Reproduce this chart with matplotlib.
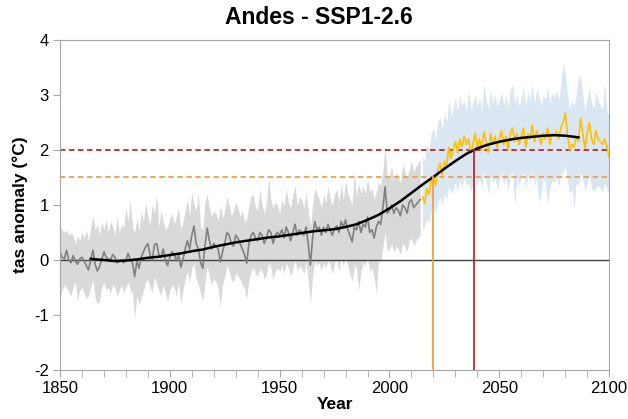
import matplotlib
matplotlib.use("Agg")
import matplotlib.pyplot as plt
from matplotlib.ticker import MultipleLocator
import numpy as np

plt.rcParams['font.family'] = ['Liberation Sans', 'DejaVu Sans']
plt.rcParams['axes.unicode_minus'] = False

# historical annual anomaly 1850-2014
hist_years = np.arange(1850, 2015)
hist_vals = [
    0.15, 0.05, 0.02, 0.18, 0.0, -0.05, 0.08, -0.02, -0.08, 0.02,
    0.05, -0.02, -0.1, -0.18, 0.0, 0.18, -0.08, -0.2, -0.12, 0.0,
    0.15, 0.05, 0.02, 0.0, 0.1, 0.05, -0.05, -0.03, 0.0, -0.05,
    0.0, 0.12, 0.0, -0.05, -0.3, -0.02, -0.15, 0.05, 0.15, 0.24,
    0.3, 0.1, 0.0, 0.28, 0.3, 0.1, 0.05, 0.2, -0.02, -0.1,
    0.05, 0.15, 0.1, -0.02, 0.1, -0.13, 0.0, 0.2, 0.35, 0.2,
    0.45, 0.62, 0.3, 0.2, -0.05, -0.15, 0.25, 0.58, 0.35, 0.2,
    0.3, 0.25, 0.2, -0.04, 0.15, 0.3, 0.5, 0.45, 0.3, 0.25,
    0.45, 0.4, 0.3, 0.2, 0.1, -0.06, 0.3, 0.45, 0.5, 0.4,
    0.35, 0.5, 0.45, 0.3, 0.4, 0.55, 0.5, 0.3, 0.45, 0.5,
    0.45, 0.55, 0.4, 0.6, 0.5, 0.35, 0.5, 0.65, 0.45, 0.55,
    0.5, 0.45, 0.6, 0.3, -0.09, 0.4, 0.7, 0.55, 0.6, 0.45,
    0.6, 0.5, 0.65, 0.55, 0.45, 0.58, 0.62, 0.5, 0.7, 0.6,
    0.73, 0.55, 0.45, 0.33, 0.6, 0.55, 0.7, 0.5, 0.65, 0.6,
    0.78, 0.5, 0.55, 0.4, 0.6, 0.7, 0.65, 0.95, 1.33, 0.85,
    0.9, 1.0, 0.85, 0.95, 0.9, 0.8, 1.0, 0.95, 0.85, 1.05,
    1.1, 0.95, 1.0, 1.05, 1.1,
]
hist_upper = [
    0.6, 0.55, 0.5, 0.55, 0.45, 0.5, 0.45, 0.3, 0.45, 0.35,
    0.5, 0.4, 0.55, 0.35, 0.6, 0.8, 0.55, 0.65, 0.45, 0.7,
    0.55, 0.75, 0.5, 0.7, 0.6, 0.45, 0.8, 0.5, 0.65, 0.6,
    0.95, 0.7, 1.1, 0.6, 0.5, 0.75, 0.55, 0.9, 0.7, 1.05,
    0.8, 0.65, 1.0, 0.85, 1.2, 0.6, 0.9, 0.7, 0.55, 0.6,
    0.75, 0.85, 0.65, 0.8, 0.95, 0.55, 0.7, 0.9, 1.1, 0.8,
    1.25, 1.0, 0.9, 1.2, 0.6, 0.55, 1.05, 1.2, 0.95, 0.8,
    0.9, 0.85, 0.7, 1.0, 0.75, 0.9, 1.15, 1.0, 0.8, 0.9,
    1.05, 0.95, 0.8, 0.9, 0.7, 0.75, 1.0, 1.15, 1.2, 0.95,
    0.9, 1.3, 1.0, 0.85, 1.05, 1.5, 1.1, 0.95, 1.05, 1.0,
    0.85, 1.1, 1.0, 1.3, 1.05, 0.95, 1.2, 1.35, 1.0, 1.15,
    1.1, 0.95, 1.25, 0.9, 0.6, 1.0, 1.3, 1.2, 1.1, 0.95,
    1.2, 1.05, 1.35, 1.1, 1.0, 1.2, 1.3, 1.05, 1.4, 1.1,
    1.45, 1.2, 1.1, 1.0, 1.63, 1.15, 1.4, 1.2, 1.35, 1.2,
    1.5, 1.25, 1.3, 1.1, 1.25, 1.4, 1.35, 1.6, 2.1, 1.5,
    1.55, 1.7, 1.45, 1.6, 1.5, 1.4, 1.75, 1.6, 1.5, 1.65,
    1.8, 1.6, 1.7, 1.75, 1.85,
]
hist_lower = [
    -0.7, -0.55, -0.45, -0.5, -0.6, -0.65, -0.5, -0.4, -0.75, -0.55,
    -0.5, -0.6, -0.7, -0.65, -0.5, -0.35, -0.7, -0.8, -0.75, -0.5,
    -0.4, -0.55, -0.5, -0.6, -0.45, -0.5, -0.65, -0.55, -0.45, -0.6,
    -0.5, -0.4, -0.55, -0.6, -1.05, -0.65, -0.8, -0.7, -0.55, -0.4,
    -0.35, -0.5, -0.6, -0.3, -0.45, -0.55, -0.65, -0.45, -0.6, -0.75,
    -0.55, -0.45, -0.5, -0.65, -0.4, -0.8, -0.55, -0.35, -0.2, -0.4,
    -0.15, -0.05, -0.35, -0.45, -0.6, -0.75, -0.4, -0.1, -0.3, -0.45,
    -0.35, -0.4, -0.5, -0.85, -0.45, -0.3, -0.1, -0.2, -0.35, -0.4,
    -0.25, -0.3, -0.35, -0.45, -0.5, -0.7, -0.35, -0.2, -0.15, -0.25,
    -0.3, -0.15, -0.2, -0.35, -0.25, -0.05, -0.15, -0.35, -0.2, -0.15,
    -0.2, -0.1, -0.25, -0.05, -0.15, -0.3, -0.15, 0.0, -0.2, -0.1,
    -0.15, -0.25, -0.05, -0.35, -0.79, -0.3, 0.0, -0.1, -0.05, -0.2,
    -0.05, -0.15, 0.0, -0.1, -0.25, -0.05, 0.0, -0.2, 0.05, -0.1,
    0.05, -0.1, -0.25, -0.4, -0.1, -0.15, -0.55, -0.2, -0.05, -0.1,
    0.05, -0.2, -0.15, -0.3, -0.6, 0.0, -0.05, 0.25, 0.5, 0.15,
    0.2, 0.3, 0.15, 0.25, 0.2, 0.1, 0.3, 0.25, 0.15, 0.35,
    0.4, 0.25, 0.35, 0.4, 0.45,
]

# SSP1-2.6 annual anomaly 2015-2100
fut_years = np.arange(2015, 2101)
fut_vals = [
    1.15, 1.03, 1.3, 1.2, 1.45,
    1.5, 1.35, 1.65, 1.76, 1.55, 1.8, 1.7, 2.05, 1.85, 2.0,
    2.15, 1.95, 2.2, 2.05, 2.25, 2.1, 2.2, 1.95, 2.1, 2.3,
    2.05, 2.2, 2.0, 2.33, 2.15, 1.95, 2.3, 2.1, 2.25, 2.05,
    2.2, 2.35, 2.1, 2.25, 2.0, 2.3, 2.4, 2.15, 2.3, 2.1,
    2.25, 2.4, 2.05, 2.3, 2.2, 2.45, 2.15, 2.35, 2.25, 2.1,
    2.3, 2.2, 2.4, 2.1, 2.3, 2.25, 2.35, 2.2, 2.4, 2.5,
    2.67, 2.3, 2.0, 2.1, 2.05, 2.25, 2.15, 2.58, 2.3, 2.03,
    2.3, 2.5, 2.2, 2.1, 2.35, 2.2, 2.15, 2.1, 2.2, 2.05,
    1.87,
]
fut_upper = [
    1.9, 1.8, 2.1, 2.0, 2.3,
    2.4, 2.2, 2.5, 2.6, 2.35, 2.7, 2.5, 2.9, 2.6, 2.75,
    2.95, 2.7, 3.0, 2.8, 2.9, 2.7, 3.1, 2.75, 2.85, 3.0,
    2.8, 2.95, 2.7, 3.2, 2.9, 2.75, 3.1, 2.85, 3.0, 2.8,
    2.9, 3.05, 2.8, 3.0, 2.75, 3.1, 3.2, 2.85, 3.0, 2.8,
    2.95, 3.15, 2.8, 3.05, 2.9, 3.2, 2.85, 3.1, 3.0, 2.8,
    3.0, 2.9, 3.15, 2.85, 3.05, 2.95, 3.1, 2.9, 3.2, 3.58,
    3.4, 3.0, 2.75, 2.9, 2.8, 3.0, 3.36, 3.3, 3.0, 2.7,
    2.95, 3.15, 2.85, 2.75, 3.05, 2.9, 2.8, 2.75, 3.25, 2.7,
    2.6,
]
fut_lower = [
    0.55, 0.6, 0.75, 0.7, 0.9,
    0.95, 0.85, 1.05, 1.15, 1.0, 1.2, 1.1, 1.35, 1.2, 1.3,
    1.4, 1.25, 1.45, 1.3, 1.5, 1.35, 1.4, 1.25, 1.4, 1.55,
    1.35, 1.5, 1.3, 1.6, 1.45, 1.2, 1.55, 1.4, 1.5, 1.3,
    1.45, 1.6, 1.35, 1.5, 1.25, 1.55, 1.6, 1.0, 1.5, 1.35,
    1.5, 1.6, 1.3, 1.55, 1.4, 1.6, 1.35, 1.5, 1.05, 1.2,
    1.5, 1.4, 1.0, 1.3, 1.45, 1.4, 1.5, 1.35, 1.55, 1.6,
    1.7, 1.45, 1.2, 1.3, 0.95, 1.4, 1.35, 1.6, 1.45, 1.25,
    1.4, 1.55, 1.3, 1.25, 1.3, 1.35, 1.3, 1.25, 1.4, 1.3,
    1.2,
]

# smoothed curve (multi-year mean)
smooth_years = [1864, 1870, 1875, 1880, 1885, 1890, 1895, 1900, 1905, 1910,
                1915, 1920, 1925, 1930, 1935, 1940, 1945, 1950, 1955, 1960,
                1965, 1970, 1975, 1980, 1985, 1990, 1995, 2000, 2005, 2010,
                2015, 2020, 2025, 2030, 2035, 2040, 2045, 2050, 2055, 2060,
                2065, 2070, 2075, 2080, 2086]
smooth_vals = [0.02, 0.0, -0.02, -0.01, 0.01, 0.04, 0.06, 0.09, 0.12, 0.16,
               0.19, 0.24, 0.28, 0.32, 0.35, 0.38, 0.41, 0.43, 0.46, 0.49,
               0.52, 0.54, 0.56, 0.60, 0.65, 0.73, 0.82, 0.94, 1.07, 1.22,
               1.37, 1.51, 1.66, 1.80, 1.93, 2.03, 2.10, 2.15, 2.19, 2.22,
               2.24, 2.26, 2.27, 2.26, 2.23]

thresholds = [1.5, 2.0]
threshold_colors = ['#f0a04b', '#c0282d']

fig = plt.figure(figsize=(6.28, 4.19), dpi=100)
ax = fig.add_axes([0.0955, 0.117, 0.8745, 0.7875])

ax.fill_between(hist_years, hist_lower, hist_upper, color='#d9d9d9', lw=0)
ax.fill_between(fut_years, fut_lower, fut_upper, color='#dae6f2', lw=0)
ax.axhline(0, color='#404040', lw=1.0)

for t, c in zip(thresholds, threshold_colors):
    ax.axhline(t, color=c, lw=1.3, ls=(0, (3, 2)))

ax.plot(hist_years, hist_vals, color='#808080', lw=1.2)
ax.plot(fut_years, fut_vals, color='#ffc000', lw=1.2)
ax.plot(smooth_years, smooth_vals, color='black', lw=1.8)

# year where the smoothed curve crosses each threshold
rise = int(np.argmax(smooth_vals)) + 1
for t, c in zip(thresholds, threshold_colors):
    yr = np.interp(t, smooth_vals[10:rise], smooth_years[10:rise])
    ax.plot([yr, yr], [-2, t], color=c, lw=1.3)

ax.set_xlim(1850, 2100)
ax.set_ylim(-2, 4)
ax.xaxis.set_major_locator(MultipleLocator(50))
ax.xaxis.set_minor_locator(MultipleLocator(10))
ax.yaxis.set_major_locator(MultipleLocator(1))
ax.tick_params(which='both', direction='out', length=5, color='#a6a6a6',
               labelsize=12, pad=3)
for s in ax.spines.values():
    s.set_color('#a6a6a6')

ax.set_xlabel('Year', fontsize=12.5, fontweight='bold', labelpad=1)
ax.set_ylabel('tas anomaly (°C)', fontsize=12.5, fontweight='bold', labelpad=4)
fig.suptitle('Andes - SSP1-2.6', x=0.508, y=0.985, fontsize=16.5, fontweight='bold')

fig.savefig('out.png', dpi=100)
